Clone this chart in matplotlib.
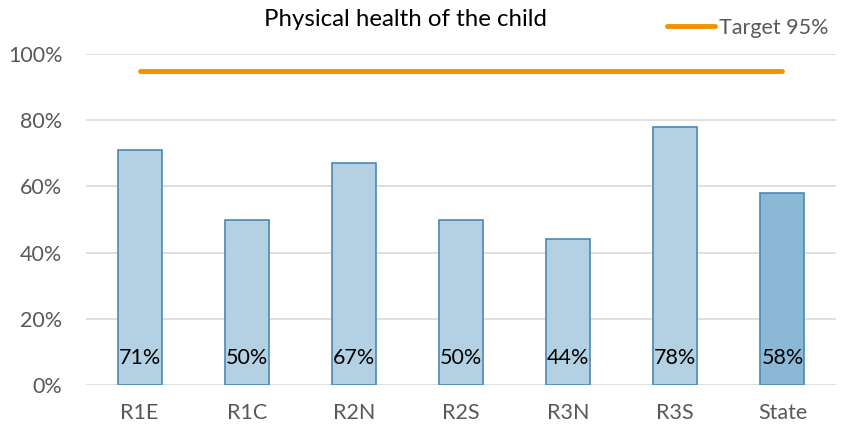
import matplotlib.pyplot as plt
from matplotlib.ticker import PercentFormatter

regions = ['R1E', 'R1C', 'R2N', 'R2S', 'R3N', 'R3S', 'State']
values = [71, 50, 67, 50, 44, 78, 58]
target = 95

plt.rcParams['font.family'] = ['Lato', 'DejaVu Sans']

fig = plt.figure(figsize=(8.44, 4.28), dpi=100)
ax = fig.add_axes([86 / 844, 1 - 385 / 428, 750 / 844, 331 / 428])

x = list(range(len(regions)))
colors = ['#b3d1e3'] * (len(regions) - 1) + ['#8bb9d5']
ax.bar(x, values, width=0.41, color=colors, edgecolor='#4a8ab8', linewidth=1.2, zorder=3)

for xi, v in zip(x, values):
    ax.text(xi, 8.2, f'{v}%', ha='center', va='center', fontsize=15.5, color='black', zorder=4)

line, = ax.plot(x, [target] * len(x), color='#f39200', linewidth=3.5,
                solid_capstyle='round', zorder=4, label='Target 95%')

ax.set_xlim(-0.5, len(regions) - 0.5)
ax.set_ylim(0, 100)
ax.set_yticks(range(0, 101, 20))
ax.yaxis.set_major_formatter(PercentFormatter(decimals=0))
ax.set_xticks(x)
ax.set_xticklabels(regions)
ax.tick_params(axis='both', length=0, labelsize=15.5, labelcolor='#595959')
ax.tick_params(axis='x', pad=13)
ax.tick_params(axis='y', pad=17)
ax.grid(axis='y', color='#d9d9d9', linewidth=1.2, zorder=0)
for s in ax.spines.values():
    s.set_visible(False)

fig.text(405 / 844, 1 - 20 / 428, 'Physical health of the child', ha='center', va='center',
         fontsize=17.3, color='black')
fig.legend(handles=[line], loc='center', bbox_to_anchor=(748 / 844, 1 - 28 / 428),
           frameon=False, fontsize=15.5, labelcolor='#595959', handlelength=2.2,
           handletextpad=0.2)

fig.savefig('out.png', dpi=100)
